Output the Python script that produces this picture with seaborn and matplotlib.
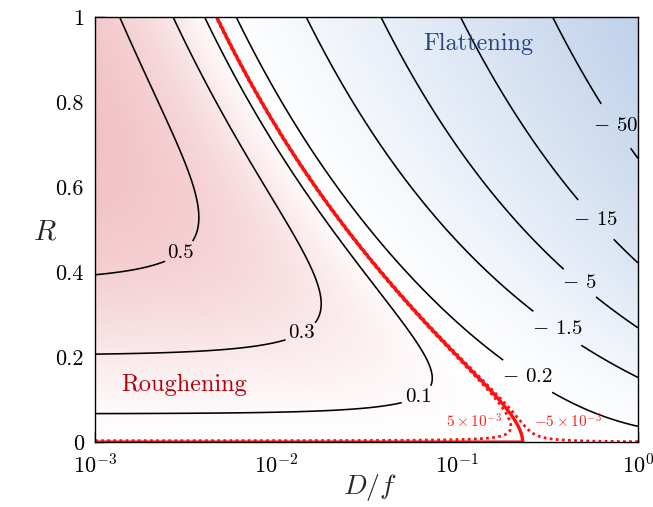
import numpy as np
import matplotlib
matplotlib.use("Agg")
import matplotlib.pyplot as plt
from matplotlib.ticker import LogLocator, FixedLocator, FixedFormatter, NullFormatter
import seaborn as sns

# Contour levels of the growth rate
levels_pos = [0.1, 0.3, 0.5]
levels_neg = [-50, -15, -5, -1.5, -0.2]
level_zero = [0.0]
levels_eps = [-5e-3, 5e-3]

# Model parameters: lambda(D/f, R) = g(R) - (D/f) * c(R)
growth_slope = 1.5      # dg/dR at R = 0
growth_sat = 2.05       # saturation scale of g
damp_lin = 6.5          # linear part of c(R)
damp_amp = 143.5        # nonlinear part of c(R)
damp_pow = 1.8

# Axis ranges and ticks
x_range = (1e-3, 1.0)
r_range = (0.0, 1.0)
r_ticks = [0, 0.2, 0.4, 0.6, 0.8, 1.0]
r_ticklabels = ["0", "0.2", "0.4", "0.6", "0.8", "1"]

# Hand-placed contour label anchors (D/f, R)
label_anchors = [(0.0033, 0.416), (0.0147, 0.235), (0.0633, 0.092),
                 (0.25, 0.16), (0.356, 0.266), (0.472, 0.372),
                 (0.55, 0.513), (0.674, 0.73)]

sns.set_theme(style="white")
plt.rcParams["font.family"] = ["cmr10"]
plt.rcParams["mathtext.fontset"] = "cm"
plt.rcParams["axes.formatter.use_mathtext"] = True
plt.rcParams["axes.unicode_minus"] = False


def growth_rate(x, r):
    g = growth_slope * r / (1.0 + (growth_sat * r) ** 3) ** (1.0 / 3.0)
    c = r * (damp_lin + damp_amp * r ** damp_pow)
    return g - x * c


xs = np.logspace(np.log10(x_range[0]), np.log10(x_range[1]), 700)
rs = np.linspace(r_range[0], r_range[1], 700)
X, Rg = np.meshgrid(xs, rs)
L = growth_rate(X, Rg)

# colour value: power law on the roughening side, logarithmic on the flattening side
shade = np.where(L > 0, np.clip(L / 0.65, 0, 1) ** 1.4,
                 -np.log1p(np.abs(L)) / np.log1p(150.0))
cmap = sns.blend_palette(["#bfd1ea", "#ffffff", "#f0bcc0"], as_cmap=True)

fig = plt.figure(figsize=(6.53, 5.07), dpi=100)
ax = fig.add_axes([0.1455, 0.128, 0.8315, 0.838])
ax.set_xscale("log")
ax.pcolormesh(X, Rg, shade, cmap=cmap, vmin=-1, vmax=1,
              shading="gouraud", rasterized=True)

levels_black = sorted(levels_neg + levels_pos)
cs = ax.contour(X, Rg, L, levels=levels_black, colors="black", linewidths=1.15,
                linestyles="solid", negative_linestyles="solid")
ax.contour(X, Rg, L, levels=level_zero, colors="#ff1010", linewidths=2.4,
           linestyles="solid")
ax.contour(X, Rg, L, levels=levels_eps, colors="#ff1010", linewidths=2.0,
           linestyles=[(0, (1, 1.2))])


def fmt(v):
    if v < 0:
        return r"$-$ " + f"{-v:g}"
    return f"{v:g}"


labels = ax.clabel(cs, fmt=fmt, fontsize=15, inline=True, inline_spacing=4,
                   manual=label_anchors)
for t in labels:
    t.set_rotation(0)

ax.text(0.124, 0.048, r"$5\times10^{-3}$", color="#ff1f1f", fontsize=11,
        ha="center", va="center")
ax.text(0.41, 0.048, r"$-5\times10^{-3}$", color="#ff1f1f", fontsize=11,
        ha="center", va="center")

ax.text(0.1306, 0.937, "Flattening", color="#23457e", fontsize=17.5,
        ha="center", va="center")
ax.text(0.0031, 0.134, "Roughening", color="#b3000c", fontsize=17.5,
        ha="center", va="center")

ax.set_xlim(*x_range)
ax.set_ylim(*r_range)
ax.yaxis.set_major_locator(FixedLocator(r_ticks))
ax.yaxis.set_major_formatter(FixedFormatter(r_ticklabels))
ax.xaxis.set_major_locator(LogLocator(base=10, numticks=10))
ax.xaxis.set_minor_locator(LogLocator(base=10, subs=np.arange(2, 10), numticks=20))
ax.xaxis.set_minor_formatter(NullFormatter())
ax.tick_params(axis="both", which="both", direction="in", top=False, right=False,
               bottom=True, left=True, colors="black", labelsize=16, pad=8)
ax.tick_params(axis="both", which="major", length=7, width=1)
ax.tick_params(axis="x", which="minor", length=4, width=0.8)
for s in ax.spines.values():
    s.set_color("black")
    s.set_linewidth(1.0)

ax.set_xlabel(r"$D/f$", fontsize=20, va="center")
ax.set_ylabel(r"$R$", fontsize=21, rotation=0, va="center", ha="center")
ax.xaxis.set_label_coords(0.506, -0.106)
ax.yaxis.set_label_coords(-0.092, 0.494)

fig.savefig("out.png", dpi=100)
